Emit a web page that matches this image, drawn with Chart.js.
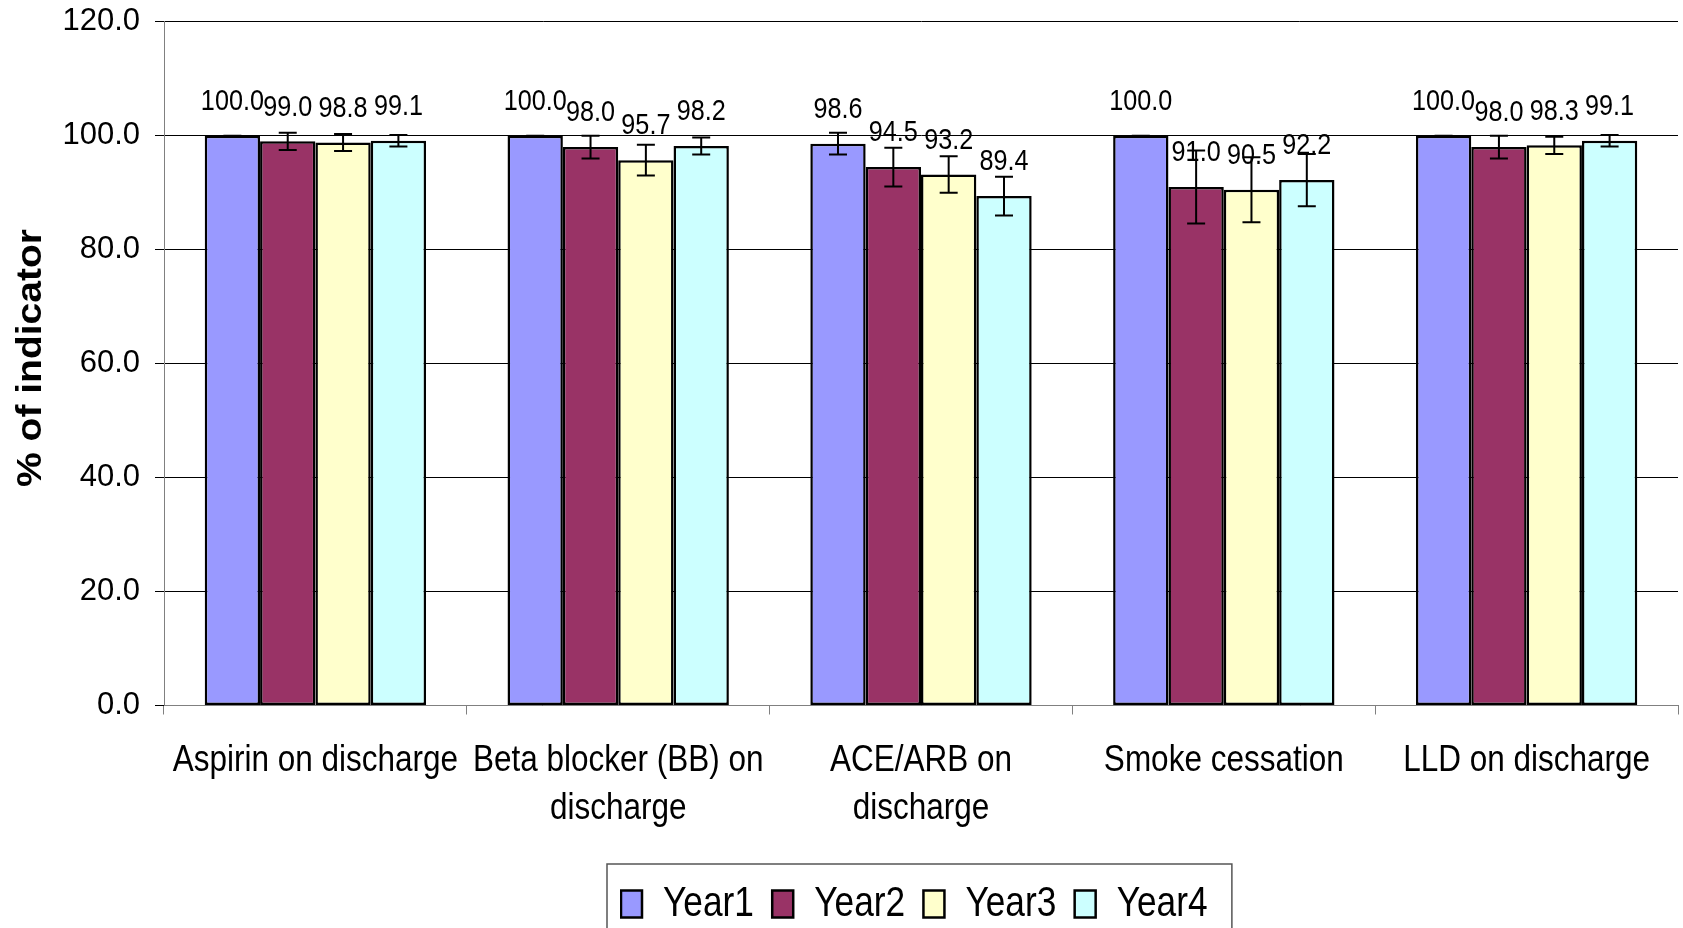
<!DOCTYPE html>
<html>
<head>
<meta charset="utf-8">
<script src="https://cdn.jsdelivr.net/npm/chart.js@4"></script>
<style>
  html, body { margin: 0; padding: 0; background: #fff; }
  #wrap { width: 1683px; height: 928px; position: relative; }
</style>
</head>
<body>
<div id="wrap"><canvas id="chart"></canvas></div>
<script>
// ---------------- Daten ----------------
const categories = [
  'Aspirin on discharge',
  ['Beta blocker (BB) on', 'discharge'],
  ['ACE/ARB on', 'discharge'],
  'Smoke cessation',
  'LLD on discharge'
];
const seriesNames = ['Year1', 'Year2', 'Year3', 'Year4'];
const year1 = [100.0, 100.0, 98.6, 100.0, 100.0];
const year2 = [99.0, 98.0, 94.5, 91.0, 98.0];
const year3 = [98.8, 95.7, 93.2, 90.5, 98.3];
const year4 = [99.1, 98.2, 89.4, 92.2, 99.1];
// Fehlerbalken (+/-)
const err1 = [0, 0, 1.9, 0, 0];
const err2 = [1.5, 2.0, 3.4, 6.4, 2.0];
const err3 = [1.5, 2.7, 3.2, 5.7, 1.5];
const err4 = [1.0, 1.5, 3.4, 4.6, 1.0];
const yTicks = [0, 20, 40, 60, 80, 100, 120];
const yTitle = '% of indicator';

// "Arial" im Fontnamen = schmal gestauchter Text (Arial Narrow fehlt)
const NARROW = "Arial, 'Liberation Sans', sans-serif";
const REG = "'Liberation Sans', sans-serif";
const SQUEEZE = 0.84;
const fills = ['#9999FF', '#993366', '#FFFFCC', '#CCFFFF'];

const values = [year1, year2, year3, year4];
const errors = [err1, err2, err3, err4];

const canvas = document.getElementById('chart');
const ctx0 = canvas.getContext('2d');
const origFill = ctx0.fillText.bind(ctx0);
ctx0.fillText = function (text, x, y, maxWidth) {
  if (ctx0.font.indexOf('Arial') >= 0) {
    const w = ctx0.measureText(text).width * SQUEEZE;
    return origFill(text, x, y, maxWidth !== undefined ? Math.min(maxWidth, w) : w);
  }
  return maxWidth !== undefined ? origFill(text, x, y, maxWidth) : origFill(text, x, y);
};

// ---------------- Plugin: Beschriftung, Fehlerbalken, Titel ----------------
const extras = {
  id: 'extras',
  afterLayout(chart) {
    // Legende wie im Original etwas nach rechts
    const lg = chart.legend;
    lg.left = 620;
    lg.legendHitBoxes.forEach(h => { h.top = 0; });
    lg.adjustHitBoxes();
  },
  afterDatasetsDraw(chart) {
    const ctx = chart.ctx;
    const y = chart.scales.y;
    ctx.save();
    ctx.font = '30px ' + NARROW;
    ctx.fillStyle = '#000';
    ctx.textAlign = 'center';
    ctx.textBaseline = 'middle';
    chart.data.datasets.forEach((ds, i) => {
      chart.getDatasetMeta(i).data.forEach((bar, j) => {
        ctx.fillText(ds.data[j].toFixed(1), bar.x, y.getPixelForValue(ds.data[j]) - 34);
      });
    });
    ctx.strokeStyle = '#000';
    ctx.lineWidth = 2;
    chart.data.datasets.forEach((ds, i) => {
      chart.getDatasetMeta(i).data.forEach((bar, j) => {
        const v = ds.data[j], e = ds.errors[j];
        const top = y.getPixelForValue(v + e);
        const bot = y.getPixelForValue(v - e);
        ctx.beginPath();
        ctx.moveTo(bar.x, top); ctx.lineTo(bar.x, bot);
        ctx.moveTo(bar.x - 9, top); ctx.lineTo(bar.x + 9, top);
        ctx.moveTo(bar.x - 9, bot); ctx.lineTo(bar.x + 9, bot);
        ctx.stroke();
      });
    });
    ctx.restore();
  },
  afterDraw(chart) {
    const ctx = chart.ctx;
    ctx.save();
    // y-Achsentitel
    ctx.translate(31, 358);
    ctx.rotate(-Math.PI / 2);
    ctx.scale(1, 0.9);
    ctx.font = 'bold 39px ' + REG;
    ctx.fillStyle = '#000';
    ctx.textAlign = 'center';
    ctx.textBaseline = 'middle';
    ctx.fillText(yTitle, 0, 0);
    ctx.restore();
    // Rahmen um Legende
    const lg = chart.legend;
    const hb = lg.legendHitBoxes;
    if (hb && hb.length) {
      const first = hb[0], last = hb[hb.length - 1];
      const left = first.left - 14, right = last.left + last.width + 7;
      const cy = lg.top + lg.options.labels.padding + first.height / 2;
      ctx.save();
      ctx.strokeStyle = '#555';
      ctx.lineWidth = 1.5;
      ctx.strokeRect(left, cy - 40, right - left, 100);
      ctx.restore();
    }
  }
};

// ---------------- Säulendiagramm ----------------
const chart = new Chart(canvas, {
  type: 'bar',
  data: {
    labels: categories,
    datasets: seriesNames.map((name, i) => ({
      label: name,
      data: values[i],
      errors: errors[i],
      backgroundColor: fills[i],
      borderColor: '#000',
      borderWidth: 2.5,
      borderSkipped: false,
      barPercentage: 1,
      categoryPercentage: 0.731
    }))
  },
  options: {
    responsive: true,
    maintainAspectRatio: false,
    animation: false,
    layout: { padding: { top: 21.7, right: 5, left: 0, bottom: -7 } },
    plugins: {
      legend: {
        position: 'bottom',
        align: 'start',
        labels: {
          font: { family: NARROW, size: 42 },
          color: '#000',
          boxWidth: 21,
          boxHeight: 27,
          padding: 1
        }
      },
      tooltip: { enabled: false }
    },
    scales: {
      x: {
        grid: { offset: true, drawOnChartArea: false, drawTicks: true, tickLength: 9, color: '#808080' },
        border: { color: '#808080', width: 1 },
        ticks: {
          font: { family: NARROW, size: 37.5, lineHeight: 1.28 },
          color: '#000',
          padding: 22,
          autoSkip: false,
          maxRotation: 0
        },
        afterFit(s) { s.height = 176.5; s.paddingLeft = 0; s.paddingRight = 0; }
      },
      y: {
        min: 0,
        max: 120,
        afterBuildTicks(s) { s.ticks = yTicks.map(v => ({ value: v })); },
        grid: { color: '#000', lineWidth: 1, tickLength: 9 },
        border: { color: '#808080', width: 1 },
        ticks: {
          font: { family: REG, size: 31 },
          color: '#000',
          padding: 15,
          callback: v => v.toFixed(1)
        },
        afterFit(s) { s.width = 164; s.paddingTop = 0; s.paddingBottom = 0; }
      }
    }
  },
  plugins: [extras]
});
</script>
</body>
</html>
